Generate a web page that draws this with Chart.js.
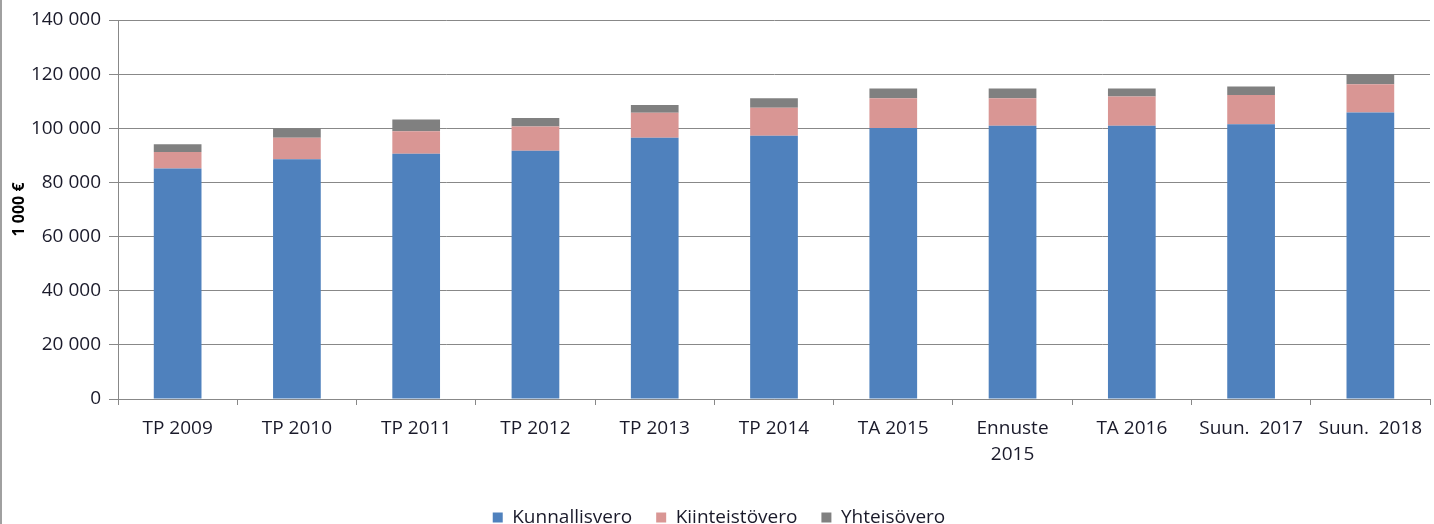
<!DOCTYPE html>
<html>
<head>
<meta charset="utf-8">
<script src="https://cdn.jsdelivr.net/npm/chart.js@4.4.0/dist/chart.umd.min.js"></script>
<style>
  html, body { margin: 0; padding: 0; background: #fff; overflow: hidden; }
  #kuvaaja { width: 1434px; height: 524px; position: relative; border-left: 2px solid #a0a0a0; box-sizing: border-box; }
</style>
</head>
<body>
<div id="kuvaaja"><canvas id="verotulot"></canvas></div>
<script>
const vuodet = ["TP 2009", "TP 2010", "TP 2011", "TP 2012", "TP 2013", "TP 2014", "TA 2015", ["Ennuste", "2015"], "TA 2016", "Suun.  2017", "Suun.  2018"]

const kunnallisvero = [85100, 88600, 90600, 91700, 96500, 97200, 100100, 100900, 100900, 101500, 105800]
const kiinteistovero = [6100, 7900, 8300, 9000, 9200, 10400, 11000, 10200, 10800, 10800, 10500]
const yhteisovero = [2900, 3500, 4300, 3100, 2900, 3500, 3600, 3600, 3000, 3100, 3700]

const fontti = "'Open Sans', 'DejaVu Sans', sans-serif"

function muotoile(arvo) {
  return String(arvo).replace(/\B(?=(\d{3})+(?!\d))/g, " ")
}

const kanvas = document.querySelector("#verotulot")

const kaavio = new Chart(kanvas, {
  type: 'bar',
  data: {
    labels: vuodet,
    datasets: [
      { label: 'Kunnallisvero', data: kunnallisvero, backgroundColor: '#4F81BD' },
      { label: 'Kiinteistövero', data: kiinteistovero, backgroundColor: '#D99694' },
      { label: 'Yhteisövero', data: yhteisovero, backgroundColor: '#808080' }
    ]
  },
  options: {
    responsive: true,
    maintainAspectRatio: false,
    animation: false,
    datasets: { bar: { barPercentage: 0.4, categoryPercentage: 1 } },
    layout: { padding: { left: 6, right: 4, top: 20, bottom: -13 } },
    plugins: {
      tooltip: { enabled: false },
      legend: {
        position: 'bottom',
        labels: {
          boxWidth: 10, boxHeight: 10, padding: 24,
          color: '#1a1a2a', font: { family: fontti, size: 19 }
        }
      }
    },
    scales: {
      x: {
        stacked: true,
        grid: { display: true, drawOnChartArea: false, drawTicks: true, tickLength: 6, color: '#888' },
        border: { color: '#888' },
        ticks: { color: '#1a1a2a', font: { family: fontti, size: 19, lineHeight: 1.4 }, maxRotation: 0, autoSkip: false, padding: 10 },
        afterFit: (akseli) => { akseli.height = 85 }
      },
      y: {
        stacked: true,
        min: 0, max: 140000,
        grid: { color: '#888', tickLength: 9 },
        border: { color: '#888' },
        ticks: { stepSize: 20000, color: '#1a1a2a', font: { family: fontti, size: 19 }, padding: 8, callback: (v) => muotoile(v) },
        title: { display: true, text: '1 000 €', color: '#000', font: { family: fontti, size: 16, weight: 'bold' }, padding: 2 },
        afterFit: (akseli) => { akseli.width = 110 }
      }
    }
  }
})
</script>
</body>
</html>
